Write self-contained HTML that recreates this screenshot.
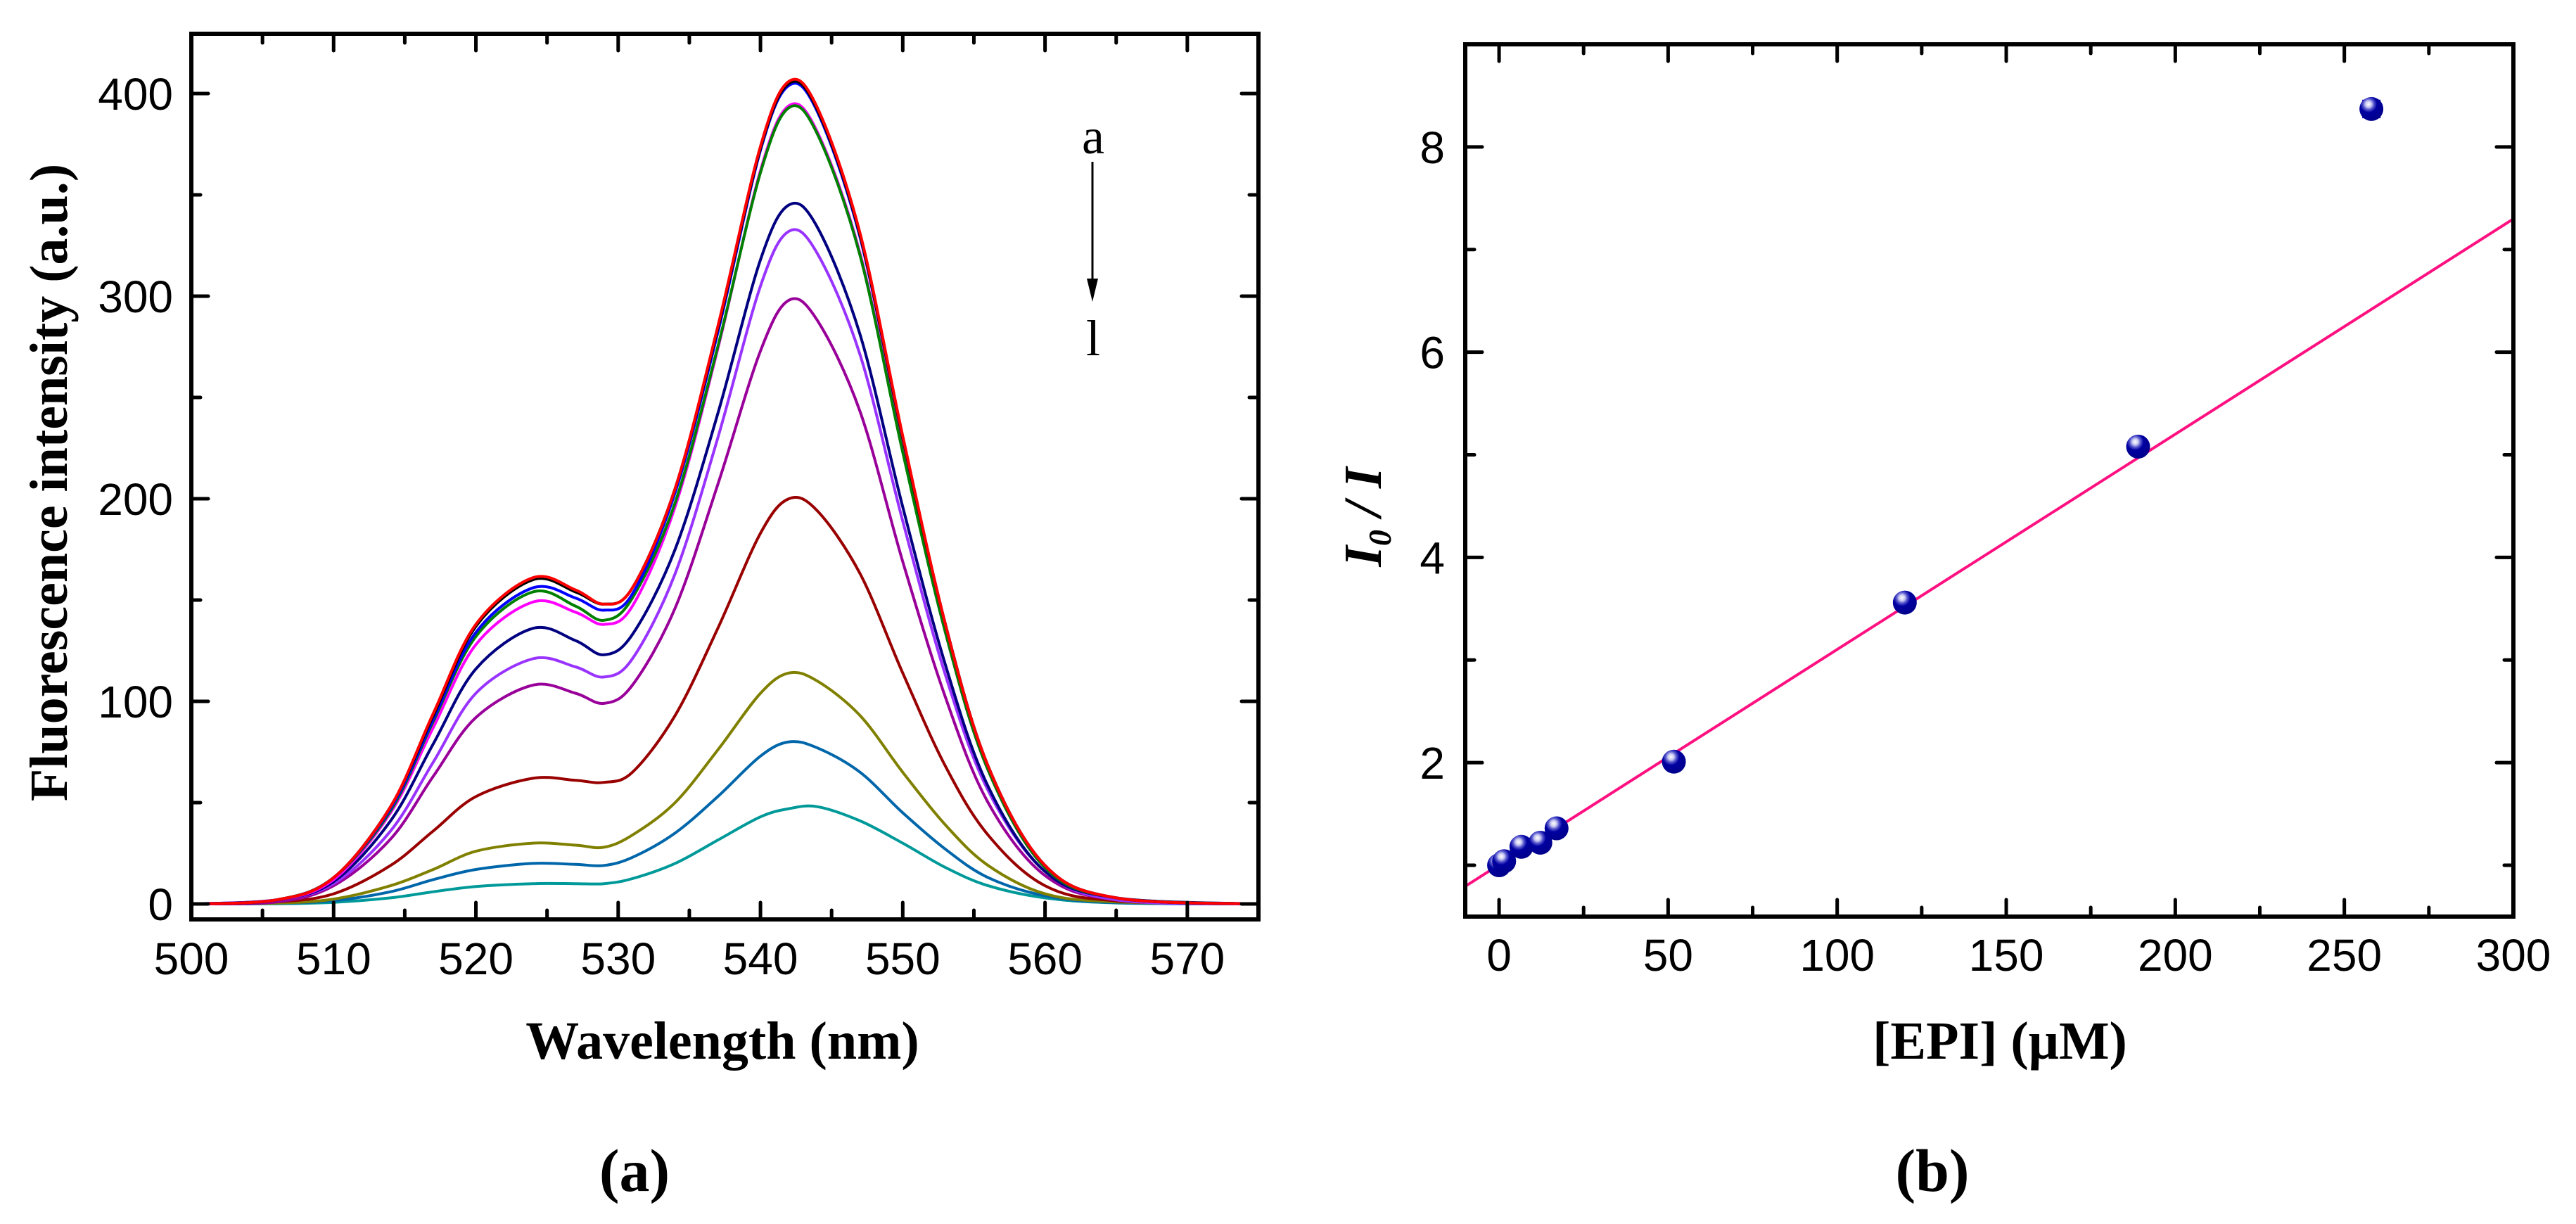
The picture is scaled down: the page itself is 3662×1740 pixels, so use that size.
<!DOCTYPE html>
<html><head><meta charset="utf-8"><style>
html,body{margin:0;padding:0;background:#fff;}
svg{display:block;}
.tick{font-family:"Liberation Sans",Arial,sans-serif;font-size:64px;fill:#000;}
.title{font-family:"Liberation Serif","Times New Roman",serif;font-weight:bold;font-size:76px;fill:#000;}
</style></head><body>
<svg id="fig" width="3662" height="1740" viewBox="0 0 3662 1740" xmlns="http://www.w3.org/2000/svg">
<defs>
<radialGradient id="ball" cx="0.38" cy="0.3" r="0.7">
<stop offset="0" stop-color="#ffffff"/><stop offset="0.18" stop-color="#c8c8f0"/><stop offset="0.32" stop-color="#5a5ad0"/><stop offset="0.5" stop-color="#0000a0"/><stop offset="1" stop-color="#00008c"/>
</radialGradient>
</defs>
<g id="chartA"></g>
<g id="chartB"></g>
<text class="title" x="902" y="1693" font-size="86" style="font-size:86px" text-anchor="middle">(a)</text>
<text class="title" x="2747" y="1693" style="font-size:86px" text-anchor="middle">(b)</text>
</svg>
<script>
// ---------- Panel (a) data ----------
const wavelengths = [500,506,510,514,517,520,524,527,529,531,534,537,540,542,544,547,550,553,556,560,565,575];
const seriesNames = ['l','k','j','i','h','g','f','e','d','c','b','a'];
const seriesColors = ['#009999','#0066aa','#808000','#990000','#990099','#9933ff','#000080','#ff00ff','#008000','#0000ff','#000000','#ff0000'];
const sTeal    = [0,0.1,0.8,3,6,8.6,10,10,10,12.5,20,31.5,43,47,48,41,30,18,9,3,0.5,0];
const sSteel   = [0,0.3,1.6,6,12,17,20,19.5,19,23,35,53,73,80,77,65,45,27,13,4,0.6,0];
const sOlive   = [0,0.4,2.4,9,17,26,30,29,28,34,50,76,104,114,110,93,65,39,19,5,1,0];
const sDarkRed = [0,1,5,19,36,53,62,61,60,65,93,136,183,200,194,163,114,68,34,9,1.5,0];
const sPurple  = [0,1,9,32,63,92,108,104,99,108,146,207,273,298,288,243,169,102,50,14,2,0];
const sViolet  = [0,2,10,36,70,104,121,117,112,121,163,230,305,332,321,271,189,113,56,16,2,0];
const sNavy    = [0,2,11,41,79,116,136,130,123,133,175,242,318,345,334,281,196,118,58,16,3,0];
const sMagenta = [0,2,12,45,87,128,149,144,138,147,196,274,362,394,381,321,224,134,66,18,3,0];
const sGreen   = [0,2,13,46,90,132,154,147,140,151,198,275,361,393,380,320,223,134,66,18,3,0];
const sBlue    = [0,2,13,47,91,134,156,151,145,153,203,282,372,404,391,329,230,138,68,19,3,0];
const sBlack   = [0,2,13,48,93,137,160,154,148,156,205,284,373,405,392,330,230,138,68,19,3,0];
const sRed     = [0,2,13,48,94,138,161,155,148,156,205,285,374,406,393,331,231,138,68,19,3,0];
const allSeries = [sTeal,sSteel,sOlive,sDarkRed,sPurple,sViolet,sNavy,sMagenta,sGreen,sBlue,sBlack,sRed];
const xTicksA = [500,510,520,530,540,550,560,570];
const yTicksA = [0,100,200,300,400];

// ---------- Panel (b) data ----------
const epiConc = [0,1.5,6.6,12.2,17,51.7,120,189,258];
const ratioI0I = [1.0,1.04,1.18,1.22,1.36,2.01,3.56,5.08,8.37];
const ratioErr = [0.03,0.03,0.03,0.03,0.03,0.03,0.03,0.04,0.08];
const fitSlope = [0.02098];
const fitIntercept = [1.005];
const xTicksB = [0,50,100,150,200,250,300];
const yTicksB = [2,4,6,8];

const NS='http://www.w3.org/2000/svg';
function mk(tag,attrs,parent){const e=document.createElementNS(NS,tag);for(const k in attrs)e.setAttribute(k,attrs[k]);parent.appendChild(e);return e;}

const A={l:272,r:1789,t:48,b:1307,x0:500,x1:575,yz:1285,yPer:2.88};
const xA=v=>A.l+(v-A.x0)/(A.x1-A.x0)*(A.r-A.l);
const yA=v=>A.yz-v*A.yPer;
const B={l:2083,r:3573,t:63,b:1303,x0:-10,x1:300,y0:0.5,y1:9};
const xB=v=>B.l+(v-B.x0)/(B.x1-B.x0)*(B.r-B.l);
const yB=v=>B.b-(v-B.y0)/(B.y1-B.y0)*(B.b-B.t);

function catmull(pts){
  let d='M'+pts[0][0].toFixed(1)+','+pts[0][1].toFixed(1);
  for(let i=0;i<pts.length-1;i++){
    const p0=pts[i-1]||pts[i],p1=pts[i],p2=pts[i+1],p3=pts[i+2]||pts[i+1];
    const c1=[p1[0]+(p2[0]-p0[0])/6,p1[1]+(p2[1]-p0[1])/6];
    const c2=[p2[0]-(p3[0]-p1[0])/6,p2[1]-(p3[1]-p1[1])/6];
    d+='C'+c1[0].toFixed(1)+','+c1[1].toFixed(1)+' '+c2[0].toFixed(1)+','+c2[1].toFixed(1)+' '+p2[0].toFixed(1)+','+p2[1].toFixed(1);
  }
  return d;
}

// ---- draw panel a ----
const gA=document.getElementById('chartA');
const clipA=mk('clipPath',{id:'clipA'},gA);mk('rect',{x:A.l,y:A.t,width:A.r-A.l,height:A.b-A.t},clipA);
const linesA=mk('g',{'clip-path':'url(#clipA)'},gA);
allSeries.forEach((s,i)=>{
  const pts=wavelengths.map((w,j)=>[xA(w),yA(s[j])]);
  const p=mk('path',{d:catmull(pts),fill:'none',stroke:seriesColors[i],'stroke-width':4,'stroke-linejoin':'round'},linesA);
  
  
});
const frameA=mk('rect',{x:A.l,y:A.t,width:A.r-A.l,height:A.b-A.t,fill:'none',stroke:'#000','stroke-width':6},gA);


for(let v=500;v<=575;v+=5){
  const major=v%10===0,len=major?24:13,x=xA(v);
  mk('line',{x1:x,y1:A.b,x2:x,y2:A.b-len,stroke:'#000','stroke-width':5,'stroke-linecap':'round'},gA);
  mk('line',{x1:x,y1:A.t,x2:x,y2:A.t+len,stroke:'#000','stroke-width':5,'stroke-linecap':'round'},gA);
}
for(let v=0;v<=450;v+=50){
  const y=yA(v);if(y<A.t+5)continue;const len=v%100===0?24:13;
  mk('line',{x1:A.l,y1:y,x2:A.l+len,y2:y,stroke:'#000','stroke-width':5,'stroke-linecap':'round'},gA);
  mk('line',{x1:A.r,y1:y,x2:A.r-len,y2:y,stroke:'#000','stroke-width':5,'stroke-linecap':'round'},gA);
}
xTicksA.forEach(v=>{const t=mk('text',{class:'tick',x:xA(v),y:1385,'text-anchor':'middle'},gA);t.textContent=v;
  
  });
yTicksA.forEach(v=>{const t=mk('text',{class:'tick',x:246,y:yA(v)+23,'text-anchor':'end'},gA);t.textContent=v;
  
  });
let tt=mk('text',{class:'title',x:1027,y:1505,'text-anchor':'middle'},gA);tt.textContent='Wavelength (nm)';


tt=mk('text',{class:'title',x:0,y:0,'text-anchor':'middle',transform:'translate(95,686) rotate(-90)'},gA);tt.textContent='Fluorescence intensity (a.u.)';


tt=mk('text',{x:1554,y:218,'text-anchor':'middle','font-family':'"Liberation Serif",serif','font-size':'72px'},gA);tt.textContent='a';


tt=mk('text',{x:1554,y:505,'text-anchor':'middle','font-family':'"Liberation Serif",serif','font-size':'72px'},gA);tt.textContent='l';


const arr=mk('g',{},gA);


mk('line',{x1:1553,y1:230,x2:1553,y2:400,stroke:'#000','stroke-width':3},arr);
mk('polygon',{points:'1545,396 1561,396 1553,429',fill:'#000'},arr);

// ---- draw panel b ----
const gB=document.getElementById('chartB');
const clipB=mk('clipPath',{id:'clipB'},gB);mk('rect',{x:B.l,y:B.t,width:B.r-B.l,height:B.b-B.t},clipB);
const fit=mk('line',{x1:xB(B.x0),y1:yB(fitIntercept[0]+fitSlope[0]*B.x0),x2:xB(B.x1),y2:yB(fitIntercept[0]+fitSlope[0]*B.x1),stroke:'#ff1080','stroke-width':4,'clip-path':'url(#clipB)'},gB);


epiConc.forEach((c,i)=>{
  const g=mk('g',{},gB);
  
  
  const x=xB(c),y=yB(ratioI0I[i]),yt=yB(ratioI0I[i]+ratioErr[i]),yb=yB(ratioI0I[i]-ratioErr[i]);
  mk('line',{x1:x,y1:yt,x2:x,y2:yb,stroke:'#0000a0','stroke-width':3},g);
  mk('line',{x1:x-13,y1:yt,x2:x+13,y2:yt,stroke:'#0000a0','stroke-width':3},g);
  mk('line',{x1:x-13,y1:yb,x2:x+13,y2:yb,stroke:'#0000a0','stroke-width':3},g);
  mk('circle',{cx:x,cy:y,r:17,fill:'url(#ball)'},g);
});
const frameB=mk('rect',{x:B.l,y:B.t,width:B.r-B.l,height:B.b-B.t,fill:'none',stroke:'#000','stroke-width':6},gB);


for(let v=0;v<=300;v+=25){
  const major=v%50===0,len=major?24:13,x=xB(v);
  mk('line',{x1:x,y1:B.b,x2:x,y2:B.b-len,stroke:'#000','stroke-width':5,'stroke-linecap':'round'},gB);
  mk('line',{x1:x,y1:B.t,x2:x,y2:B.t+len,stroke:'#000','stroke-width':5,'stroke-linecap':'round'},gB);
}
for(let v=1;v<=8;v+=1){
  const y=yB(v),len=v%2===0?24:13;
  mk('line',{x1:B.l,y1:y,x2:B.l+len,y2:y,stroke:'#000','stroke-width':5,'stroke-linecap':'round'},gB);
  mk('line',{x1:B.r,y1:y,x2:B.r-len,y2:y,stroke:'#000','stroke-width':5,'stroke-linecap':'round'},gB);
}
xTicksB.forEach(v=>{const t=mk('text',{class:'tick',x:xB(v),y:1380,'text-anchor':'middle'},gB);t.textContent=v;
  
  });
yTicksB.forEach(v=>{const t=mk('text',{class:'tick',x:2054,y:yB(v)+23,'text-anchor':'end'},gB);t.textContent=v;
  
  });
tt=mk('text',{class:'title',x:2843,y:1505,'text-anchor':'middle'},gB);tt.textContent='[EPI] (\u03BCM)';


tt=mk('text',{class:'title',x:0,y:0,'text-anchor':'middle','font-style':'italic',transform:'translate(1963,735) rotate(-90)'},gB);
tt.innerHTML='I<tspan font-size="46" dy="14">0</tspan><tspan dy="-14"> / I</tspan>';


</script>
</body></html>
